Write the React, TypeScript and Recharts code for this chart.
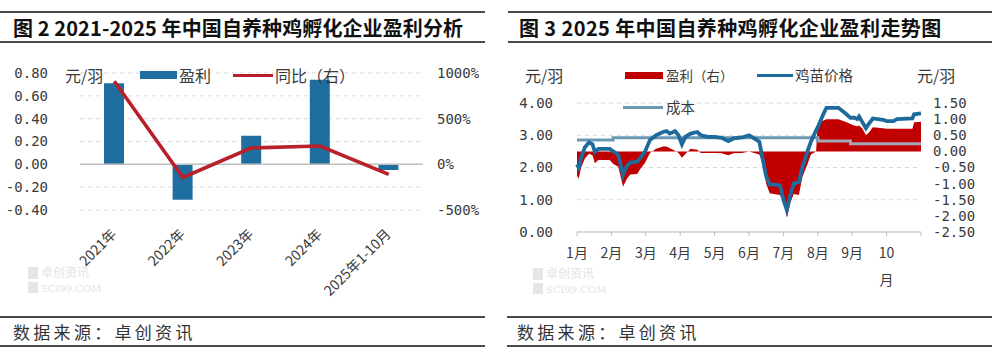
import React from "react";
import {
  ComposedChart,
  Bar,
  Line,
  Area,
  XAxis,
  YAxis,
  CartesianGrid,
  ReferenceLine,
} from "recharts";

// ---------- Left chart data (图2) ----------
const years = ["2021年", "2022年", "2023年", "2024年", "2025年1-10月"];
const yearProfit = [0.71, -0.31, 0.25, 0.74, -0.05];
const yearYoy = [910, -144, 180, 200, -110];
const leftTicksL = [-0.4, -0.2, 0, 0.2, 0.4, 0.6, 0.8];
const leftTicksR = [-500, 0, 500, 1000];

// ---------- Right chart data (图3) ----------
const monthLabels = ["1月", "2月", "3月", "4月", "5月", "6月", "7月", "8月", "9月", "10月"];
const monthTicks = [0, 1, 2, 3, 4, 5, 6, 7, 8, 9, 10];
// time position in months since Jan 1
const tPos = [
  0.0, 0.05, 0.12, 0.23, 0.35, 0.45, 0.52, 0.62, 0.95, 1.05, 1.2, 1.25, 1.34, 1.45, 1.55, 1.75, 1.84, 1.98,
  2.12, 2.3, 2.5, 2.6, 2.7, 2.85, 2.95, 3.05, 3.15, 3.3, 3.5, 3.6, 3.8, 4.0, 4.2, 4.4, 4.55, 4.8, 5.0,
  5.15, 5.3, 5.4, 5.5, 5.6, 5.9, 6.0, 6.1, 6.2, 6.3, 6.45, 6.55, 6.7, 6.8, 6.95, 7.0, 7.15, 7.25, 7.6,
  7.8, 7.95, 8.05, 8.15, 8.2, 8.3, 8.4, 8.5, 8.6, 8.9, 9.0, 9.2, 9.3, 9.75, 9.8, 10.0,
];
const chickPrice = [
  2.1, 2.0, 2.3, 2.63, 2.78, 2.72, 2.48, 2.58, 2.58, 2.5, 2.4, 2.17, 1.77, 2.05, 2.15, 2.18, 2.3, 2.5,
  2.85, 3.0, 3.1, 3.13, 3.05, 3.13, 3.0, 2.72, 2.95, 3.05, 3.1, 3.0, 2.95, 2.95, 2.92, 2.82, 2.9, 2.93, 3.0,
  2.9, 2.8, 2.25, 1.72, 1.48, 1.45, 1.0, 0.68, 1.15, 1.5, 1.55, 2.0, 2.5, 2.8, 3.15, 3.25, 3.63, 3.85, 3.85,
  3.68, 3.54, 3.55, 3.5, 3.58, 3.4, 3.22, 3.38, 3.52, 3.48, 3.44, 3.44, 3.5, 3.52, 3.65, 3.68,
];
const costValues = [
  2.85, 2.85, 2.85, 2.85, 2.85, 2.85, 2.85, 2.85, 2.85, 2.92, 2.92, 2.92, 2.92, 2.92, 2.92, 2.92, 2.92, 2.92,
  2.92, 2.92, 2.92, 2.92, 2.92, 2.92, 2.92, 2.92, 2.92, 2.92, 2.92, 2.92, 2.92, 2.92, 2.92, 2.92, 2.92, 2.92, 2.92,
  2.92, 2.92, 2.92, 2.92, 2.92, 2.92, 2.92, 2.92, 2.92, 2.92, 2.92, 2.92, 2.92, 2.92, 2.92, 2.82, 2.82, 2.82, 2.82,
  2.82, 2.74, 2.74, 2.74, 2.74, 2.74, 2.74, 2.74, 2.74, 2.74, 2.74, 2.74, 2.74, 2.74, 2.74, 2.74,
];
const profitValues = [
  -0.75, -0.85, -0.5, -0.22, -0.07, -0.12, -0.37, -0.27, -0.27, -0.38, -0.48, -0.7, -1.1, -0.85, -0.72, -0.7, -0.55, -0.35,
  -0.05, 0.08, 0.15, 0.15, 0.1, 0.02, -0.05, -0.2, -0.08, 0.08, 0.05, -0.05, -0.05, -0.05, -0.06, -0.12, -0.06, -0.05, 0.0,
  -0.05, -0.1, -0.35, -1.0, -1.3, -1.35, -1.55, -2.05, -1.6, -1.32, -1.35, -0.8, -0.4, -0.1, 0.0, 0.9, 0.95, 1.0, 1.0,
  0.92, 0.85, 0.8, 0.78, 0.8, 0.7, 0.5, 0.6, 0.75, 0.72, 0.7, 0.7, 0.7, 0.7, 0.9, 0.92,
];
const rightTicksL = [0, 1, 2, 3, 4];
const rightTicksR = [-2.5, -2, -1.5, -1, -0.5, 0, 0.5, 1, 1.5];

const yearData = years.map((y, i) => ({ year: y, profit: yearProfit[i], yoy: yearYoy[i] }));
const dailyData = tPos.map((t, i) => ({
  t,
  price: chickPrice[i],
  cost: costValues[i],
  profit: profitValues[i],
}));

const CJK = '"Noto Sans CJK SC", "Noto Sans", sans-serif';
const MONO = '"DejaVu Sans Mono", monospace';
const BAR_BLUE = "#1f6ea0";
const LINE_RED = "#b8202a";
const AREA_RED = "#c00000";
const PRICE_BLUE = "#1f6a9c";
const COST_BLUE = "#6a98b2";
const TEXT = "#3a3a3a";

const tickStyle = { fontFamily: MONO, fontSize: 14, fill: TEXT };

const YearTick = (props: any) => {
  const { x, y, payload } = props;
  return (
    <g transform={`translate(${x + 3},${y + 25})`}>
      <text textAnchor="end" transform="rotate(-45)" fontSize={14} fill={TEXT} fontFamily={CJK}>
        {payload.value}
      </text>
    </g>
  );
};

const MonthTick = (props: any) => {
  const { x, y, payload } = props;
  const label = monthLabels[payload.value];
  if (!label) return null;
  if (label.length > 2) {
    return (
      <text x={x} y={y} textAnchor="middle" fontSize={14} fill={TEXT} fontFamily={CJK}>
        <tspan x={x} dy={20}>{label.slice(0, label.length - 1)}</tspan>
        <tspan x={x} dy={27}>{label.slice(label.length - 1)}</tspan>
      </text>
    );
  }
  return (
    <text x={x} y={y + 20} textAnchor="middle" fontSize={14} fill={TEXT} fontFamily={CJK}>
      {label}
    </text>
  );
};

const abs = (l: number, t: number, extra: React.CSSProperties = {}): React.CSSProperties => ({
  position: "absolute",
  left: l,
  top: t,
  ...extra,
});

const HLine = ({ l, t, w }: { l: number; t: number; w: number }) => (
  <div style={abs(l, t, { width: w, height: 2, background: "#4a4a4a" })} />
);

const Label = ({ l, cy, text, size = 16, bold = false, spacing = 0, color = TEXT }: any) => (
  <div
    style={abs(l, cy - size * 0.75, {
      fontFamily: CJK,
      fontSize: size,
      fontWeight: bold ? 700 : 400,
      lineHeight: `${size * 1.5}px`,
      height: size * 1.5,
      whiteSpace: "nowrap",
      letterSpacing: spacing,
      color,
    })}
  >
    {text}
  </div>
);

const Watermark = ({ l, t }: { l: number; t: number }) => (
  <div style={abs(l, t, { width: 90, height: 30, opacity: 0.5 })}>
    <div style={abs(0, 1, { width: 10, height: 12, background: "#cfcfcf" })} />
    <div style={abs(0, 16, { width: 10, height: 11, background: "#cfcfcf" })} />
    <div style={abs(13, 0, { fontFamily: CJK, fontSize: 12, lineHeight: "12px", color: "#c8c8c8", whiteSpace: "nowrap" })}>
      卓创资讯
    </div>
    <div style={abs(13, 18, { fontFamily: '"DejaVu Serif", serif', fontSize: 10, lineHeight: "10px", color: "#c8c8c8", whiteSpace: "nowrap" })}>
      SCI99.COM
    </div>
  </div>
);

export default function App() {
  return (
    <div style={{ position: "absolute", left: 0, top: 0, width: 992, height: 355, background: "#fff", overflow: "hidden" }}>
      {/* ---------- Left panel frame ---------- */}
      <HLine l={0} t={11} w={485} />
      <Label l={13} cy={28} text="图 2 2021-2025 年中国自养种鸡孵化企业盈利分析" size={20} spacing={0.1} bold color="#111" />
      <HLine l={0} t={41} w={485} />
      <HLine l={0} t={316} w={485} />
      <Label l={13} cy={332} text="数据来源：卓创资讯" size={17} spacing={3.3} color="#333" />
      <HLine l={0} t={345} w={485} />
      <Watermark l={28} t={266} />

      {/* ---------- Left chart ---------- */}
      <div style={abs(0, 0)}>
        <ComposedChart width={490} height={320} data={yearData} margin={{ top: 73, right: 7, bottom: 50, left: 20 }}>
          <CartesianGrid yAxisId="l" vertical={false} stroke="#d9d9d9" strokeDasharray="4 4" />
          <XAxis dataKey="year" axisLine={false} tickLine={false} tickSize={0} tickMargin={0} height={60} interval={0} tick={<YearTick />} />
          <YAxis
            yAxisId="l"
            domain={[-0.4, 0.8]}
            ticks={leftTicksL}
            tickFormatter={(v: number) => v.toFixed(2)}
            axisLine={false}
            tickLine={false}
            tickSize={0}
            tickMargin={32}
            width={60}
            tick={tickStyle}
            interval={0}
          />
          <YAxis
            yAxisId="r"
            orientation="right"
            domain={[-500, 1000]}
            ticks={leftTicksR}
            tickFormatter={(v: number) => `${v}%`}
            axisLine={false}
            tickLine={false}
            tickSize={0}
            tickMargin={14}
            width={60}
            tick={tickStyle}
            interval={0}
          />
          <ReferenceLine yAxisId="l" y={0} stroke="#bfbfbf" strokeWidth={1.5} />
          <Bar yAxisId="l" dataKey="profit" fill={BAR_BLUE} barSize={20} isAnimationActive={false} />
          <Line yAxisId="r" dataKey="yoy" stroke={LINE_RED} strokeWidth={3.6} dot={false} type="linear" isAnimationActive={false} />
        </ComposedChart>
      </div>

      {/* Left legend */}
      <Label l={65} cy={75} text="元/羽" size={16} />
      <div style={abs(140, 71, { width: 37, height: 8, background: BAR_BLUE })} />
      <Label l={179} cy={75} text="盈利" size={16} />
      <div style={abs(233, 73.5, { width: 40, height: 3.5, background: LINE_RED })} />
      <Label l={275} cy={75} text="同比（右）" size={16} />

      {/* ---------- Right panel frame ---------- */}
      <HLine l={508} t={11} w={484} />
      <Label l={519} cy={28} text="图 3 2025 年中国自养种鸡孵化企业盈利走势图" size={20} spacing={0.4} bold color="#111" />
      <HLine l={508} t={41} w={484} />
      <HLine l={507} t={316} w={485} />
      <Label l={517} cy={332} text="数据来源：卓创资讯" size={17} spacing={3.3} color="#333" />
      <HLine l={507} t={345} w={485} />
      <Watermark l={533} t={267} />

      {/* ---------- Right chart ---------- */}
      <div style={abs(496, 0)}>
        <ComposedChart width={496} height={320} data={dailyData} margin={{ top: 103, right: 11, bottom: 38, left: 21 }}>
          <defs>
            <linearGradient id="costGrad" x1="0" y1="0" x2="1" y2="0">
              <stop offset="0%" stopColor={COST_BLUE} />
              <stop offset="70%" stopColor={COST_BLUE} />
              <stop offset="70%" stopColor="#a3a6b6" />
              <stop offset="100%" stopColor="#a3a6b6" />
            </linearGradient>
          </defs>
          <CartesianGrid yAxisId="l" vertical={false} stroke="#d9d9d9" strokeDasharray="4 4" />
          <XAxis
            dataKey="t"
            type="number"
            domain={[0, 10]}
            ticks={monthTicks}
            interval={0}
            axisLine={{ stroke: "#bfbfbf" }}
            tickLine={{ stroke: "#bfbfbf" }}
            tickSize={4}
            tickMargin={2}
            height={50}
            tick={<MonthTick />}
          />
          <YAxis
            yAxisId="l"
            domain={[0, 4]}
            ticks={rightTicksL}
            tickFormatter={(v: number) => v.toFixed(2)}
            axisLine={false}
            tickLine={false}
            tickSize={0}
            tickMargin={24}
            width={60}
            tick={tickStyle}
            interval={0}
          />
          <YAxis
            yAxisId="r"
            orientation="right"
            domain={[-2.5, 1.5]}
            ticks={rightTicksR}
            tickFormatter={(v: number) => v.toFixed(2)}
            axisLine={false}
            tickLine={false}
            tickSize={0}
            tickMargin={12}
            width={60}
            tick={tickStyle}
            interval={0}
          />
          <Area
            yAxisId="r"
            dataKey="profit"
            type="linear"
            baseValue={0}
            fill={AREA_RED}
            fillOpacity={1}
            stroke="none"
            isAnimationActive={false}
          />
          <Line yAxisId="l" dataKey="cost" type="stepAfter" stroke="url(#costGrad)" strokeWidth={3} dot={false} isAnimationActive={false} />
          <Line yAxisId="l" dataKey="price" type="linear" stroke={PRICE_BLUE} strokeWidth={3.8} dot={false} isAnimationActive={false} />
        </ComposedChart>
      </div>

      {/* Right legend and units */}
      <Label l={525} cy={75} text="元/羽" size={16} />
      <Label l={917} cy={75} text="元/羽" size={16} />
      <div style={abs(625, 71.5, { width: 38, height: 7, background: AREA_RED })} />
      <Label l={666} cy={75} text="盈利（右）" size={13.5} />
      <div style={abs(757, 73.5, { width: 36, height: 3.5, background: PRICE_BLUE })} />
      <Label l={795} cy={75} text="鸡苗价格" size={14.5} />
      <div style={abs(623, 105.5, { width: 40, height: 3.5, background: COST_BLUE })} />
      <Label l={666} cy={107} text="成本" size={14.5} />
    </div>
  );
}
